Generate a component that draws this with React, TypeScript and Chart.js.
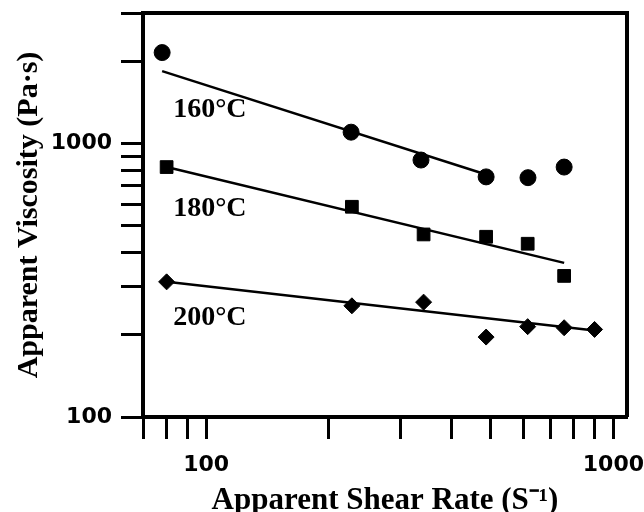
import React, { useEffect, useRef } from "react";
import { Chart, registerables } from "chart.js";

Chart.register(...registerables);

// ---- data ----
const shearRate160 = [78, 227, 337, 487, 617, 757];
const viscosity160 = [2150, 1100, 870, 755, 750, 820];

const shearRate180 = [80, 228, 342, 487, 616, 757];
const viscosity180 = [820, 587, 465, 456, 430, 328];

const shearRate200 = [80, 228, 342, 487, 616, 757, 899];
const viscosity200 = [312, 255, 263, 196, 214, 212, 209];

// fitted power-law lines (end points)
const fit160X = [78, 487];
const fit160Y = [1840, 770];
const fit180X = [80, 757];
const fit180Y = [820, 366];
const fit200X = [80, 899];
const fit200Y = [312, 207];

// axis ticks
const xTickValues = [70, 80, 90, 100, 200, 300, 400, 500, 600, 700, 800, 900, 1000];
const xTickLabels = ["100", "1000"];
const yTickValues = [100, 200, 300, 400, 500, 600, 700, 800, 900, 1000, 2000, 3000];
const yTickLabels = ["100", "1000"];

// temperature annotations (data coordinates)
const curveLabels = ["160°C", "180°C", "200°C"];
const curveLabelX = [83, 83, 83];
const curveLabelY = [1325, 575, 230];

const toXY = (xs: number[], ys: number[]) => xs.map((x, i) => ({ x, y: ys[i] }));

const framePlugin = {
  id: "frame",
  afterDatasetsDraw(chart: any) {
    const { ctx, chartArea } = chart;
    ctx.save();
    ctx.strokeStyle = "#000";
    ctx.lineWidth = 4;
    ctx.beginPath();
    ctx.moveTo(chartArea.left, chartArea.top);
    ctx.lineTo(chartArea.right, chartArea.top);
    ctx.lineTo(chartArea.right, chartArea.bottom);
    ctx.stroke();
    // temperature labels
    const xs = chart.scales.x;
    const ys = chart.scales.y;
    ctx.fillStyle = "#000";
    ctx.font = "bold 28px 'Liberation Serif', serif";
    ctx.textAlign = "left";
    ctx.textBaseline = "middle";
    curveLabels.forEach((t, i) => {
      ctx.fillText(t, xs.getPixelForValue(curveLabelX[i]), ys.getPixelForValue(curveLabelY[i]));
    });
    ctx.restore();
  },
};

const tickFont = { family: "'DejaVu Sans', sans-serif", size: 22, weight: "bold" as const };

export default function App() {
  const ref = useRef<HTMLCanvasElement | null>(null);

  useEffect(() => {
    document.body.style.margin = "0";
    if (!ref.current) return;
    const pointDs = (label: string, xs: number[], ys: number[], style: string, r: number) => ({
      type: "scatter" as const,
      label,
      data: toXY(xs, ys),
      showLine: false,
      pointStyle: style,
      pointRadius: r,
      pointBackgroundColor: "#000",
      pointBorderColor: "#000",
      pointBorderWidth: 1,
    });
    const lineDs = (label: string, xs: number[], ys: number[]) => ({
      type: "line" as const,
      label,
      data: toXY(xs, ys),
      borderColor: "#000",
      borderWidth: 2.5,
      pointRadius: 0,
      fill: false,
      tension: 0,
    });

    const chart = new Chart(ref.current, {
      type: "scatter",
      data: {
        datasets: [
          lineDs("fit 160", fit160X, fit160Y),
          lineDs("fit 180", fit180X, fit180Y),
          lineDs("fit 200", fit200X, fit200Y),
          pointDs("160°C", shearRate160, viscosity160, "circle", 8),
          pointDs("180°C", shearRate180, viscosity180, "rect", 9),
          pointDs("200°C", shearRate200, viscosity200, "rectRot", 8),
        ] as any,
      },
      options: {
        responsive: false,
        animation: false,
        devicePixelRatio: 1,
        layout: { padding: { top: 13, right: 17, left: 0, bottom: 0 } },
        plugins: { legend: { display: false }, tooltip: { enabled: false } },
        scales: {
          x: {
            type: "logarithmic",
            min: 70,
            max: 1080,
            afterBuildTicks: (scale: any) => {
              scale.ticks = xTickValues.map((v) => ({ value: v }));
            },
            afterFit: (scale: any) => {
              scale.height = 95;
              scale.paddingLeft = 0;
              scale.paddingRight = 0;
            },
            ticks: {
              autoSkip: false,
              maxRotation: 0,
              padding: 13,
              color: "#000",
              font: tickFont,
              callback: (v: any) => (xTickLabels.includes(String(v)) ? String(v) : ""),
            },
            grid: {
              drawOnChartArea: false,
              drawTicks: true,
              tickLength: 22,
              tickWidth: 3,
              tickColor: "#000",
            },
            border: { display: true, color: "#000", width: 4 },
            title: {
              display: true,
              text: "Apparent Shear Rate (S⁻¹)",
              color: "#000",
              padding: { top: 0, bottom: -8 },
              font: { family: "'Liberation Serif', 'Times New Roman', serif", size: 31, weight: "bold" },
            },
          },
          y: {
            type: "logarithmic",
            min: 100,
            max: 3000,
            afterBuildTicks: (scale: any) => {
              scale.ticks = yTickValues.map((v) => ({ value: v }));
            },
            afterFit: (scale: any) => {
              scale.width = 143;
              scale.paddingTop = 0;
              scale.paddingBottom = 0;
            },
            ticks: {
              autoSkip: false,
              padding: 9,
              color: "#000",
              font: tickFont,
              callback: (v: any) => (yTickLabels.includes(String(v)) ? String(v) : ""),
            },
            grid: {
              drawOnChartArea: false,
              drawTicks: true,
              tickLength: 22,
              tickWidth: 3,
              tickColor: "#000",
            },
            border: { display: true, color: "#000", width: 4 },
            title: {
              display: true,
              text: "Apparent Viscosity (Pa·s)",
              color: "#000",
              padding: { top: 11, bottom: 0 },
              font: { family: "'Liberation Serif', 'Times New Roman', serif", size: 30, weight: "bold" },
            },
          },
        },
      },
      plugins: [framePlugin],
    });
    return () => chart.destroy();
  }, []);

  return (
    <div style={{ width: 644, height: 512 }}>
      <canvas ref={ref} width={644} height={512} />
    </div>
  );
}
